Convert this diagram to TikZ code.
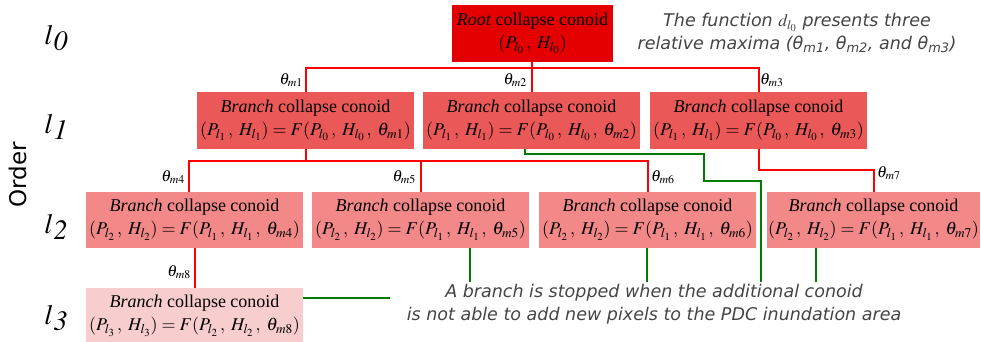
\documentclass[tikz,border=0pt]{standalone}
\usepackage{mathptmx}
\usepackage{fontspec}
\setmainfont{Liberation Serif}
\newfontfamily\notefont{DejaVu Sans}
\usetikzlibrary{calc}
\definecolor{rootred}{RGB}{228,0,0}
\definecolor{lonered}{RGB}{235,88,88}
\definecolor{ltwored}{RGB}{242,136,136}
\definecolor{lthreered}{RGB}{248,205,205}
\definecolor{stopgreen}{RGB}{0,125,0}
\definecolor{notegray}{RGB}{68,68,68}
\def\P{P}
\def\H{H}
\def\sep{\,,\;}

\begin{document}
\begin{tikzpicture}[x=1pt,y=-1pt,
  conoid/.style={fill=#1, minimum width=217, minimum height=57, inner sep=0pt,
    align=center, font=\fontsize{18}{23}\selectfont},
  tree/.style={red, line width=2pt},
  stop/.style={stopgreen, line width=2pt},
  ang/.style={inner sep=1pt, font=\fontsize{16}{16}\selectfont},
  order/.style={font=\fontsize{28}{28}\selectfont},
  note/.style={notegray, align=center, font=\notefont\itshape\fontsize{17.5}{23}\selectfont}]
  \useasboundingbox (0,0) rectangle (981,342);

  % order axis
  \node[font=\notefont\fontsize{23}{23}\selectfont, rotate=90] (order) at (18,175) {Order};
  \node[order] (o0) at (56,38) {$l$\raisebox{-6pt}{$\mathit{0}$}};
  \node[order] (o1) at (56,127) {$l$\raisebox{-6pt}{$\mathit{1}$}};
  \node[order] (o2) at (56,227) {$l$\raisebox{-6pt}{$\mathit{2}$}};
  \node[order] (o3) at (56,318) {$l$\raisebox{-6pt}{$\mathit{3}$}};

  % conoids
  \node[conoid=rootred, minimum width=161] (root) at (532.5,33.5)
    {\textit{Root} collapse conoid\\$(\P_{l_0}\sep\H_{l_0})$};
  \node[conoid=lonered] (b1) at (305.5,120.5)
    {\textit{Branch} collapse conoid\\$(\P_{l_1}\sep\H_{l_1}) = F(\P_{l_0}\sep\H_{l_0}\sep\theta_{m1})$};
  \node[conoid=lonered] (b2) at (531.5,120.5)
    {\textit{Branch} collapse conoid\\$(\P_{l_1}\sep\H_{l_1}) = F(\P_{l_0}\sep\H_{l_0}\sep\theta_{m2})$};
  \node[conoid=lonered] (b3) at (758.5,120.5)
    {\textit{Branch} collapse conoid\\$(\P_{l_1}\sep\H_{l_1}) = F(\P_{l_0}\sep\H_{l_0}\sep\theta_{m3})$};
  \node[conoid=ltwored, minimum height=56] (b4) at (194.5,220)
    {\textit{Branch} collapse conoid\\$(\P_{l_2}\sep\H_{l_2}) = F(\P_{l_1}\sep\H_{l_1}\sep\theta_{m4})$};
  \node[conoid=ltwored, minimum height=56] (b5) at (420.5,220)
    {\textit{Branch} collapse conoid\\$(\P_{l_2}\sep\H_{l_2}) = F(\P_{l_1}\sep\H_{l_1}\sep\theta_{m5})$};
  \node[conoid=ltwored, minimum height=56] (b6) at (647.5,220)
    {\textit{Branch} collapse conoid\\$(\P_{l_2}\sep\H_{l_2}) = F(\P_{l_1}\sep\H_{l_1}\sep\theta_{m6})$};
  \node[conoid=ltwored, minimum height=56, minimum width=213] (b7) at (873.5,220)
    {\textit{Branch} collapse conoid\\$(\P_{l_2}\sep\H_{l_2}) = F(\P_{l_1}\sep\H_{l_1}\sep\theta_{m7})$};
  \node[conoid=lthreered, minimum height=56] (b8) at (194.5,316)
    {\textit{Branch} collapse conoid\\$(\P_{l_3}\sep\H_{l_3}) = F(\P_{l_2}\sep\H_{l_2}\sep\theta_{m8})$};

  % red tree
  \coordinate (j0) at (530,68);
  \coordinate (j1) at (420,161);
  \coordinate (j2) at (800,170);
  \draw[tree] (b2.north |- root.south) -- (b2.north);
  \draw[tree] (b1.north) |- (j0) -| (b3.north);
  \draw[tree] (b1.south) -- (b1.south |- j1);
  \draw[tree] ([xshift=-6]b4.north) |- (j1) -| (b6.north);
  \draw[tree] (b5.north) -- (b5.north |- j1);
  \draw[tree] (b3.south) |- (j2) -| (b7.north);
  \draw[tree] (b4.south) -- (b8.north);

  \node[ang, anchor=east] (t1) at (304,80) {$\theta_{m1}$};
  \node[ang, anchor=east] (t2) at (528,80) {$\theta_{m2}$};
  \node[ang, anchor=west] (t3) at (759,80) {$\theta_{m3}$};
  \node[ang, anchor=east] (t4) at (186,177) {$\theta_{m4}$};
  \node[ang, anchor=east] (t5) at (417,177) {$\theta_{m5}$};
  \node[ang, anchor=west] (t6) at (650,177) {$\theta_{m6}$};
  \node[ang, anchor=west] (t7) at (876,173) {$\theta_{m7}$};
  \node[ang, anchor=east] (t8) at (192,272) {$\theta_{m8}$};

  % stopped branches
  \coordinate (s1) at (704,154);
  \coordinate (s2) at (761,181);
  \coordinate (stop3) at (761,282);
  \coordinate (stop5) at (470,282);
  \coordinate (stop6) at (647,282);
  \coordinate (stop7) at (816,282);
  \coordinate (stop8) at (390,298);
  \draw[stop] ([xshift=-7]b2.south) |- (s1) |- (s2) -- (stop3);
  \draw[stop] (b5.south -| stop5) -- (stop5);
  \draw[stop] (b6.south -| stop6) -- (stop6);
  \draw[stop] (b7.south -| stop7) -- (stop7);
  \draw[stop] (b8.east |- stop8) -- (stop8);

  \node[note] (maxima) at (797,33)
    {The function $d_{l_0}$ presents three\\relative maxima (θ\textsubscript{m1}, θ\textsubscript{m2}, and θ\textsubscript{m3})};
  \node[note] (stopped) at (654,304)
    {A branch is stopped when the additional conoid\\is not able to add new pixels to the PDC inundation area};
\end{tikzpicture}
\end{document}
